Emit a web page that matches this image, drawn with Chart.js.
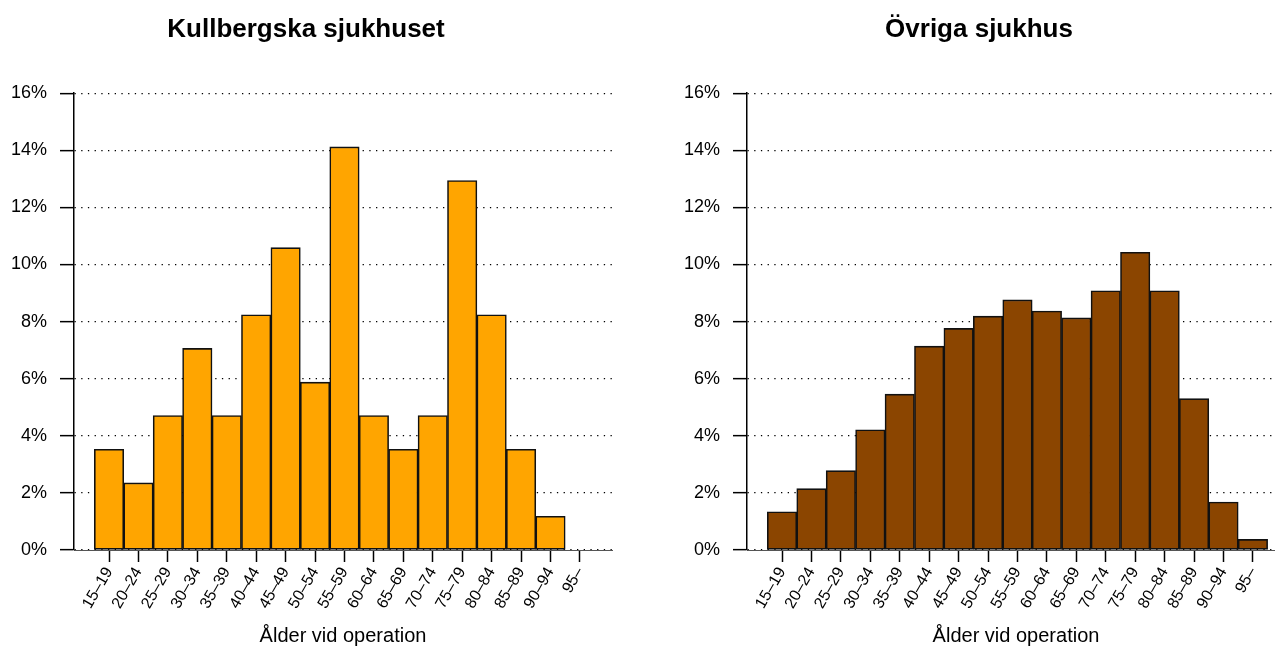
<!DOCTYPE html>
<html>
<head>
<meta charset="utf-8">
<script src="https://cdn.jsdelivr.net/npm/chart.js@4/dist/chart.umd.min.js"></script>
<style>
  html, body { margin: 0; padding: 0; background: #fff; overflow: hidden; width: 1275px; height: 648px; }
  canvas { position: absolute; top: 0; }
  #left { left: 0; }
  #right { left: 673px; }
</style>
</head>
<body>
<canvas id="left" width="640" height="648"></canvas>
<canvas id="right" width="640" height="648"></canvas>
<script>
const ageGroups = ["15–19", "20–24", "25–29", "30–34", "35–39", "40–44", "45–49", "50–54",
                   "55–59", "60–64", "65–69", "70–74", "75–79", "80–84", "85–89", "90–94", "95–"];
// andel (%) per åldersgrupp
const kullbergska = [3.53, 2.35, 4.71, 7.06, 4.71, 8.24, 10.59, 5.88, 14.12, 4.71, 3.53, 4.71, 12.94, 8.24, 3.53, 1.18, 0];
const ovriga = [1.34, 2.15, 2.78, 4.21, 5.46, 7.14, 7.76, 8.19, 8.76, 8.37, 8.13, 9.08, 10.43, 9.08, 5.30, 1.68, 0.37];
const yTicks = [0, 2, 4, 6, 8, 10, 12, 14, 16];
const xTitle = "Ålder vid operation";

const font = "'Liberation Sans', Arial, Helvetica, sans-serif";

function histogram(id, title, values, color) {
    new Chart(document.getElementById(id), {
        type: 'bar',
        data: {
            datasets: [{
                data: values.map((v, i) => ({ x: i, y: v })),
                backgroundColor: color,
                borderColor: '#111',
                borderWidth: 1.6,
                borderSkipped: false,
                barPercentage: 1,
                categoryPercentage: 1
            }]
        },
        options: {
            responsive: false,
            animation: false,
            devicePixelRatio: 1,
            layout: { padding: { left: 0, right: 28, top: 0, bottom: 0 } },
            plugins: {
                legend: { display: false },
                tooltip: { enabled: false },
                title: {
                    display: true,
                    text: title,
                    color: '#000',
                    font: { family: font, size: 26, weight: 'bold' },
                    padding: { top: 14, bottom: 48 }
                }
            },
            scales: {
                x: {
                    type: 'linear',
                    offset: false,
                    min: -1.19,
                    max: 17.09,
                    afterBuildTicks: scale => {
                        scale.ticks = ageGroups.map((_, i) => ({ value: i }));
                    },
                    afterFit: scale => { scale.height = 98; },
                    ticks: {
                        autoSkip: false,
                        minRotation: 60,
                        maxRotation: 60,
                        padding: 2,
                        color: '#000',
                        font: { family: font, size: 16 },
                        callback: v => ageGroups[v]
                    },
                    grid: {
                        offset: false,
                        drawOnChartArea: false,
                        drawTicks: true,
                        tickLength: 12,
                        tickColor: '#000',
                        tickWidth: 1.5
                    },
                    border: { display: true, color: '#555', width: 1 },
                    title: {
                        display: true,
                        text: xTitle,
                        color: '#000',
                        font: { family: font, size: 20 },
                        padding: { top: 2, bottom: 0 }
                    }
                },
                y: {
                    min: 0,
                    max: 16,
                    afterBuildTicks: scale => {
                        scale.ticks = yTicks.map(v => ({ value: v }));
                    },
                    afterFit: scale => { scale.width = 74; },
                    ticks: {
                        padding: 13,
                        color: '#000',
                        font: { family: font, size: 18 },
                        callback: v => v + '%'
                    },
                    grid: {
                        color: '#000',
                        lineWidth: 1.3,
                        tickLength: 14,
                        tickColor: '#000',
                        tickWidth: 1.5
                    },
                    border: { display: true, color: '#000', width: 1.5, dash: [1.3, 5.4] }
                }
            }
        }
    });
}

histogram('left', 'Kullbergska sjukhuset', kullbergska, '#FFA500');
histogram('right', 'Övriga sjukhus', ovriga, '#8B4500');
</script>
</body>
</html>
